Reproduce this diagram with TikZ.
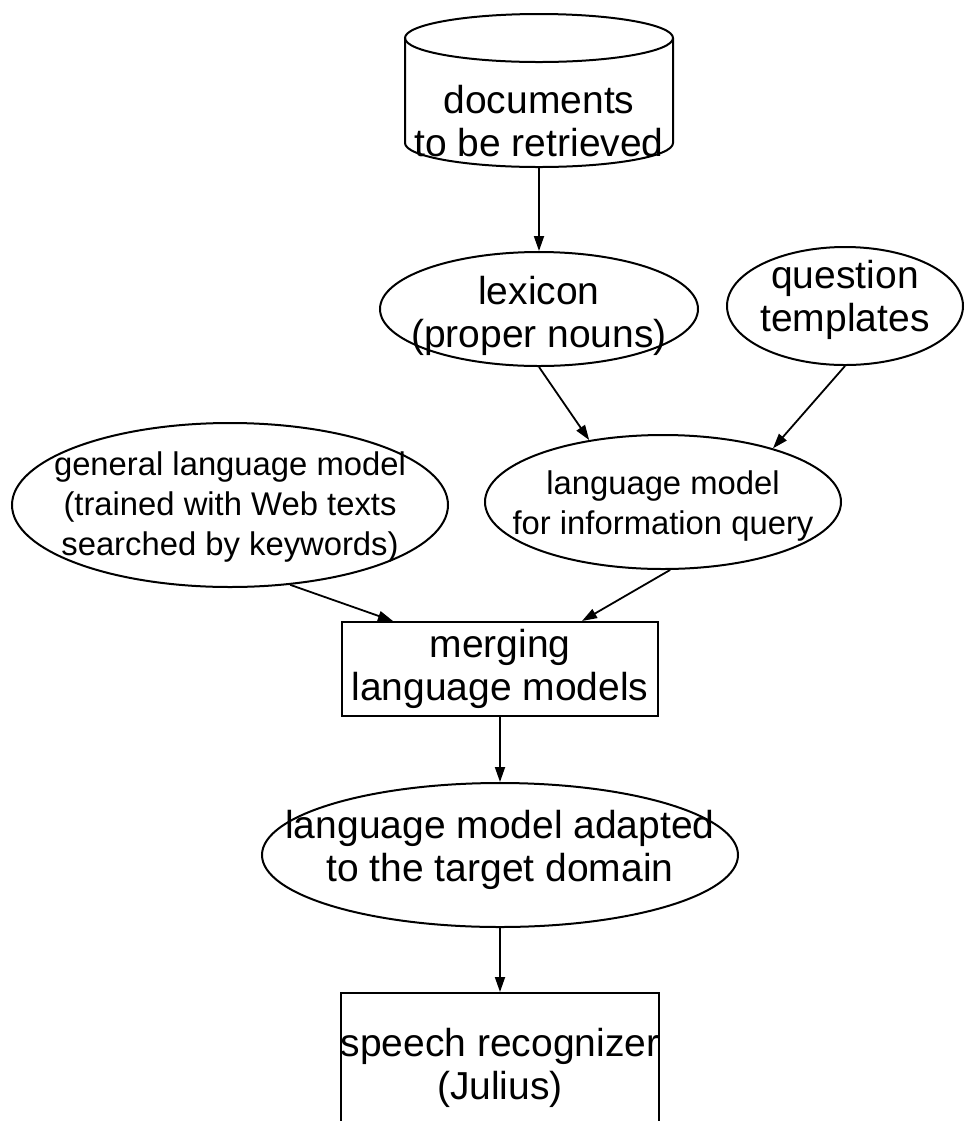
\documentclass[tikz,border=0pt]{standalone}
\usepackage{fontspec}
\setmainfont{Liberation Sans}
\usetikzlibrary{shapes.geometric,arrows.meta}

\tikzset{
  outline/.style={line width=1pt},
  arr/.style={line width=0.9pt, -{Triangle[length=7.5pt,width=5pt]}},
  bigtext/.style={font=\fontsize{19.5}{21.5}\selectfont, align=center, inner sep=0pt},
  smalltext/.style={font=\fontsize{16.4}{20}\selectfont, align=center, inner sep=0pt},
  oval/.style={ellipse, draw, line width=1pt, inner sep=0pt},
  box/.style={rectangle, draw, line width=1pt, inner sep=0pt, bigtext},
}

\begin{document}
\begin{tikzpicture}[x=0.5pt, y=-0.5pt]
\clip (0,0) rectangle (965,1121);

% database of documents
\draw[outline] (405,38) -- (405,143)
  arc[start angle=180, end angle=360, x radius=67pt, y radius=12pt] -- (673,38);
\draw[outline] (539,38) ellipse [x radius=67pt, y radius=12pt];
\node[bigtext] (docs) at (539,121) {documents\\to be retrieved};
\coordinate (docsbase) at (539,167);

% knowledge sources
\node[oval, minimum width=159pt, minimum height=57pt,
      label={[bigtext, yshift=-3.5pt]center:lexicon\\(proper nouns)}] (lex) at (539,309) {};
\node[oval, minimum width=118pt, minimum height=59pt,
      label={[bigtext, yshift=3pt]center:question\\templates}] (quest) at (845,306) {};

% language models
\node[oval, minimum width=178pt, minimum height=67pt,
      label={[smalltext, yshift=-2pt]center:language model\\for information query}] (info) at (663,502) {};
\node[oval, minimum width=218pt, minimum height=82pt,
      label={[smalltext, yshift=-1pt]center:general language model\\(trained with Web texts\\searched by keywords)}] (gen) at (230,505) {};

\node[box, minimum width=158pt, minimum height=47pt] (merge) at (500,669) {merging\\language models};

\node[oval, minimum width=238pt, minimum height=72pt,
      label={[bigtext, yshift=2.5pt]center:language model adapted\\to the target domain}] (adapt) at (500,855) {};

\node[box, minimum width=158pt, minimum height=75pt] (speech) at (500,1068) {speech recognizer\\(Julius)};

% connectors
\draw[arr] (docsbase) -- (lex);
\draw[arr] (lex.south) -- (info.140);
\draw[arr] (quest.south) -- (info.26);
\draw[arr] (gen.-53) -- ([xshift=-53.5pt]merge.north);
\draw[arr] (info.-84) -- ([xshift=41pt]merge.north);
\draw[arr] (merge) -- (adapt);
\draw[arr] (adapt) -- (speech);
\end{tikzpicture}
\end{document}
